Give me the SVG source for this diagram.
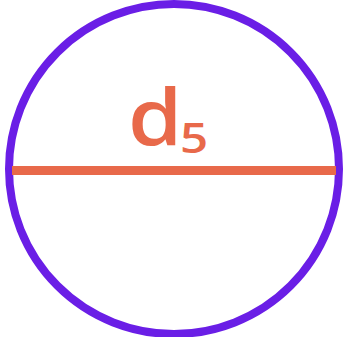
<svg xmlns="http://www.w3.org/2000/svg" width="343" height="337" viewBox="0 0 343 337">
<style>
.lbl{fill:#e8694a;font-family:"Open Sans","DejaVu Sans",sans-serif;font-weight:600}
</style>
<rect width="343" height="337" fill="#ffffff"/>
<g id="circle">
<circle cx="174" cy="169" r="165" fill="none" stroke="#6a1ee6" stroke-width="8"/>
</g>
<g id="connectors">
<line x1="12" y1="170.5" x2="336" y2="170.5" stroke="#e8694a" stroke-width="9"/>
</g>
<g id="label">
<text class="lbl" x="0" y="0" font-size="78" transform="translate(128,145) scale(1.12,1)">d</text>
<text class="lbl" x="0" y="0" font-size="41" transform="translate(180,153) scale(1.2,1)">5</text>
</g>
</svg>
